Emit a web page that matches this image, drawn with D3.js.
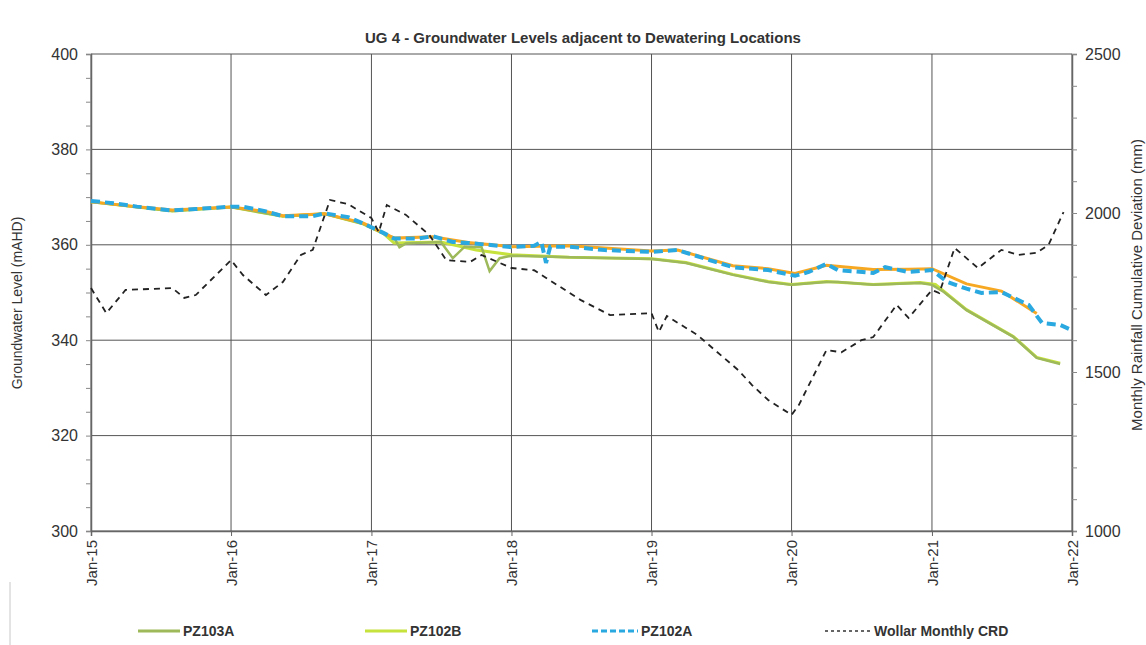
<!DOCTYPE html>
<html>
<head>
<meta charset="utf-8">
<script src="https://cdn.jsdelivr.net/npm/d3@7"></script>
<style>
  body { margin: 0; background: #fff; }
  text { font-family: "Liberation Sans", Arial, sans-serif; fill: #333; }
</style>
</head>
<body>
<div id="chart"></div>
<script>
// ---- data ----
const pz102aDates = ["2015-01-01","2015-03-01","2015-05-01","2015-08-01","2015-10-01","2016-01-01","2016-02-01","2016-04-01","2016-05-15","2016-08-01","2016-09-01","2016-11-01","2016-12-10","2017-02-01","2017-03-01","2017-05-01","2017-06-10","2017-08-01","2017-09-10","2017-11-01","2018-01-01","2018-03-01","2018-03-20","2018-04-01","2018-04-12","2018-06-01","2018-09-01","2019-01-01","2019-03-10","2019-06-01","2019-08-01","2019-11-01","2020-01-10","2020-02-15","2020-04-01","2020-05-01","2020-08-01","2020-09-01","2020-11-01","2021-01-01","2021-02-10","2021-04-01","2021-05-10","2021-07-01","2021-09-10","2021-10-15","2021-12-01","2022-01-01"];
const pz102aLevels = [369.2,368.7,368.0,367.2,367.5,368.0,368.0,367.0,366.0,366.0,366.6,365.8,364.5,362.5,361.3,361.3,361.8,360.6,360.4,360.0,359.5,359.8,360.6,356.2,359.6,359.6,358.9,358.5,358.9,356.8,355.3,354.7,353.5,354.3,356.0,354.7,354.1,355.3,354.3,354.7,352.2,350.8,349.9,350.1,347.4,343.6,343.2,342.1];

const orangeDates = ["2015-01-01","2015-05-01","2015-08-01","2016-01-01","2016-04-01","2016-05-15","2016-09-01","2016-12-10","2017-03-01","2017-06-10","2017-09-10","2018-01-01","2018-06-01","2019-01-01","2019-03-10","2019-08-01","2019-11-01","2020-01-10","2020-04-01","2020-08-01","2020-11-01","2021-01-01","2021-04-01","2021-07-01","2021-10-01"];
const orangeLevels = [369.0,368.0,367.3,367.9,367.0,366.1,366.5,364.6,361.4,361.7,360.5,359.6,359.8,358.7,358.9,355.6,355.0,354.0,355.7,354.8,354.9,355.0,351.8,350.3,345.6];

const pz102bDates = ["2015-01-01","2015-08-01","2016-01-01","2016-05-15","2016-09-01","2016-12-10","2017-02-01","2017-03-01","2017-07-01","2017-10-01","2018-01-01","2018-06-01","2019-01-01","2019-04-01","2019-08-01","2019-11-01","2020-01-01","2020-04-01","2020-08-01","2020-12-01","2021-01-10","2021-04-01","2021-08-01","2021-10-01","2021-12-01"];
const pz102bLevels = [369.0,367.1,367.9,366.0,366.5,364.4,362.4,360.4,360.6,358.9,357.9,357.4,357.1,356.3,353.8,352.3,351.7,352.3,351.7,352.1,351.7,346.4,340.8,336.4,335.2];

const pz103aDates = ["2015-01-01","2015-08-01","2016-01-01","2016-05-15","2016-09-01","2016-12-10","2017-02-01","2017-03-01","2017-03-15","2017-04-01","2017-07-01","2017-08-01","2017-09-01","2017-10-15","2017-11-05","2017-12-01","2018-01-01","2018-06-01","2019-01-01","2019-04-01","2019-08-01","2019-11-01","2020-01-01","2020-04-01","2020-05-01","2020-08-01","2020-12-01","2021-01-01","2021-02-01","2021-04-01","2021-08-01","2021-10-01","2021-12-01"];
const pz103aLevels = [369.0,367.1,367.9,366.0,366.5,364.4,362.4,361.5,359.5,360.3,360.6,357.2,359.6,359.5,354.5,357.2,357.7,357.4,357.0,356.2,353.7,352.2,351.6,352.2,352.2,351.6,352.0,351.6,350.1,346.3,340.7,336.3,335.0];

const crdDates = ["2015-01-01","2015-02-10","2015-04-01","2015-06-01","2015-08-01","2015-09-01","2015-10-01","2016-01-01","2016-02-01","2016-04-01","2016-05-15","2016-07-01","2016-08-01","2016-09-15","2016-11-01","2017-01-01","2017-01-20","2017-02-10","2017-04-01","2017-06-01","2017-07-15","2017-09-15","2017-10-15","2018-01-01","2018-03-01","2018-05-01","2018-07-01","2018-09-15","2019-01-01","2019-01-20","2019-02-10","2019-05-01","2019-06-15","2019-08-15","2019-09-20","2019-11-01","2020-01-01","2020-01-20","2020-04-01","2020-05-10","2020-07-01","2020-08-01","2020-10-01","2020-11-01","2021-01-01","2021-01-20","2021-03-01","2021-05-01","2021-07-01","2021-08-15","2021-10-01","2021-11-01","2021-12-10"];
const crdValues = [1764,1685,1758,1761,1764,1733,1742,1852,1805,1742,1783,1868,1884,2041,2028,1984,1940,2025,1994,1931,1852,1846,1868,1827,1820,1773,1726,1679,1685,1626,1676,1616,1569,1506,1459,1412,1365,1396,1569,1562,1600,1610,1711,1670,1758,1748,1890,1827,1884,1868,1875,1900,2003];

const leftTicks = [300, 320, 340, 360, 380, 400];
const rightTicks = [1000, 1500, 2000, 2500];
const yearTicks = ["2015-01-01","2016-01-01","2017-01-01","2018-01-01","2019-01-01","2020-01-01","2021-01-01","2022-01-01"];

const legendItems = [
  { name: "PZ103A", color: "#9db95a", dash: null },
  { name: "PZ102B", color: "#c6e23c", dash: null },
  { name: "PZ102A", color: "#2aa8e0", dash: "6,3" },
  { name: "Wollar Monthly CRD", color: "#333", dash: "3,3" }
];

// ---- layout ----
const W = 1146, H = 645;
const margin = { top: 54, right: 74, bottom: 114, left: 91 };
const width = W - margin.left - margin.right,
  height = H - margin.top - margin.bottom;

const parse = d3.timeParse("%Y-%m-%d");

const svg = d3.select("#chart").append("svg")
  .attr("width", W).attr("height", H);

const g = svg.append("g")
  .attr("transform", "translate(" + margin.left + "," + margin.top + ")");

const x = d3.scaleTime().domain([parse("2015-01-01"), parse("2022-01-01")]).range([0, width]);
const y = d3.scaleLinear().domain([300, 400]).range([height, 0]);
const y2 = d3.scaleLinear().domain([1000, 2500]).range([height, 0]);

// grid
g.append("g").selectAll("line").data(leftTicks).enter().append("line")
  .attr("x1", 0).attr("x2", width)
  .attr("y1", d => y(d)).attr("y2", d => y(d))
  .attr("stroke", "#555").attr("stroke-width", 1);
g.append("g").selectAll("line").data(yearTicks).enter().append("line")
  .attr("x1", d => x(parse(d))).attr("x2", d => x(parse(d)))
  .attr("y1", 0).attr("y2", height)
  .attr("stroke", "#555").attr("stroke-width", 1);

// left axis with minor ticks
const leftAxis = g.append("g")
  .call(d3.axisLeft(y).tickValues(d3.range(300, 401, 5)).tickSize(5).tickFormat(""));
leftAxis.select(".domain").attr("stroke", "#666").attr("stroke-width", 1.5);
leftAxis.selectAll(".tick line").attr("stroke", "#888");
g.append("g").selectAll("text").data(leftTicks).enter().append("text")
  .attr("x", -13).attr("y", d => y(d)).attr("dy", "0.35em")
  .attr("text-anchor", "end").style("font-size", "16px")
  .text(d => d);

// right axis with minor ticks
const rightAxis = g.append("g").attr("transform", "translate(" + width + ",0)")
  .call(d3.axisRight(y2).tickValues(d3.range(1000, 2501, 100)).tickSize(5).tickFormat(""));
rightAxis.select(".domain").attr("stroke", "#666").attr("stroke-width", 1.5);
rightAxis.selectAll(".tick line").attr("stroke", "#888");
g.append("g").selectAll("text").data(rightTicks).enter().append("text")
  .attr("x", width + 13).attr("y", d => y2(d)).attr("dy", "0.35em")
  .attr("text-anchor", "start").style("font-size", "16px")
  .text(d => d);

// bottom axis
const bottomAxis = g.append("g").attr("transform", "translate(0," + height + ")")
  .call(d3.axisBottom(x).tickValues(yearTicks.map(parse)).tickSize(5).tickFormat(d3.timeFormat("%b-%y")));
bottomAxis.select(".domain").attr("stroke", "#666").attr("stroke-width", 1.5);
bottomAxis.selectAll(".tick line").attr("stroke", "#666");
bottomAxis.selectAll("text")
  .style("font-size", "15px").style("font-family", "Liberation Sans, Arial, sans-serif").attr("fill", "#333")
  .attr("text-anchor", "end")
  .attr("transform", "rotate(-90)")
  .attr("x", -9).attr("y", 0).attr("dy", "0.35em");

// lines
const lineL = d3.line().x(d => x(d[0])).y(d => y(d[1]));
const lineR = d3.line().x(d => x(d[0])).y(d => y2(d[1]));
const zip = (dates, vals) => dates.map((d, i) => [parse(d), vals[i]]);

g.append("path").datum(zip(pz102bDates, pz102bLevels))
  .attr("d", lineL).attr("fill", "none").attr("stroke", "#c6e23c").attr("stroke-width", 3);
g.append("path").datum(zip(pz103aDates, pz103aLevels))
  .attr("d", lineL).attr("fill", "none").attr("stroke", "#9db95a").attr("stroke-width", 2.5);
g.append("path").datum(zip(orangeDates, orangeLevels))
  .attr("d", lineL).attr("fill", "none").attr("stroke", "#f7a823").attr("stroke-width", 3);
g.append("path").datum(zip(pz102aDates, pz102aLevels))
  .attr("d", lineL).attr("fill", "none").attr("stroke", "#2aa8e0").attr("stroke-width", 4)
  .attr("stroke-dasharray", "9,5");
g.append("path").datum(zip(crdDates, crdValues))
  .attr("d", lineR).attr("fill", "none").attr("stroke", "#222").attr("stroke-width", 1.8)
  .attr("stroke-dasharray", "6,5");

// titles
svg.append("text").attr("x", 583).attr("y", 43).attr("text-anchor", "middle")
  .style("font-size", "15px").style("font-weight", "bold").attr("fill", "#222")
  .text("UG 4 - Groundwater Levels adjacent to Dewatering Locations");
svg.append("text").attr("transform", "translate(22,303) rotate(-90)")
  .attr("text-anchor", "middle").style("font-size", "14px")
  .text("Groundwater Level (mAHD)");
svg.append("text").attr("transform", "translate(1142,285) rotate(-90)")
  .attr("text-anchor", "middle").style("font-size", "15px")
  .text("Monthly Rainfall Cumulative Deviation (mm)");

// faint frame below the chart
svg.append("line").attr("x1", 10).attr("x2", 10).attr("y1", 582).attr("y2", H)
  .attr("stroke", "#c8c8c8");

// legend
const legendX = [138, 365, 592, 825];
const leg = svg.append("g").selectAll("g").data(legendItems).enter().append("g")
  .attr("transform", (d, i) => "translate(" + legendX[i] + ",631)");
leg.append("line").attr("x1", 0).attr("x2", d => d.dash ? 46 : 42).attr("y1", 0).attr("y2", 0)
  .attr("stroke", d => d.color).attr("stroke-width", d => d.dash === "3,3" ? 1.5 : 3)
  .attr("stroke-dasharray", d => d.dash);
leg.append("text").attr("x", d => d.dash ? 49 : 45).attr("dy", "0.35em")
  .style("font-size", "14px").style("font-weight", "bold").attr("fill", "#111")
  .text(d => d.name);
</script>
</body>
</html>
